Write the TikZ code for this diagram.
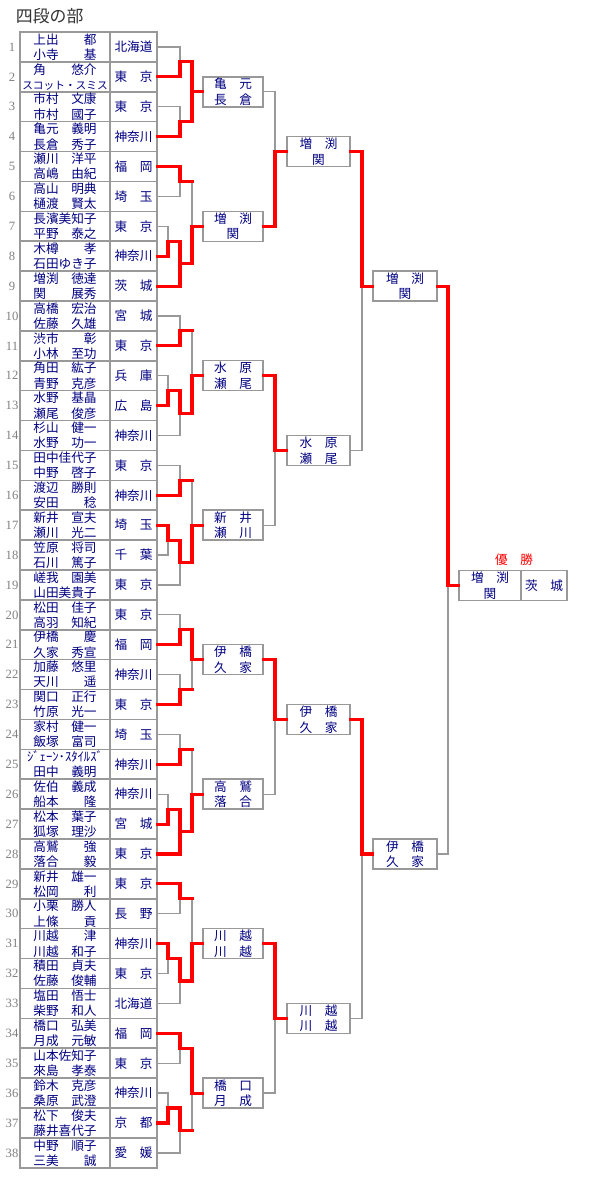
\documentclass[tikz,border=0pt]{standalone}
\usepackage{fontspec}
\setmainfont{Noto Sans CJK JP}
\newfontfamily\numfont{Liberation Serif}
\definecolor{navy}{HTML}{000080}
\definecolor{linegray}{HTML}{999999}
\definecolor{numgray}{HTML}{808080}
\definecolor{titlegray}{HTML}{333333}
\newcommand{\nm}[2]{\makebox[5em]{#1\hfill#2}}
\newcommand{\pf}[2]{\makebox[3em]{#1\hfill#2}}

\begin{document}
\begin{tikzpicture}[x=0.025cm, y=-0.025cm,
    namecell/.style={draw=linegray, line width=1.1pt, minimum width=2.25cm, minimum height=0.747cm,
        inner sep=0pt, align=center, text=navy, font=\fontsize{9pt}{10.8pt}\selectfont},
    prefcell/.style={namecell, minimum width=1.175cm},
    resbox/.style={draw=linegray, line width=1.1pt, minimum height=0.75cm, inner sep=0pt,
        align=center, text=navy, font=\fontsize{9pt}{11pt}\selectfont},
    lose/.style={draw=linegray, line width=0.9pt},
    win/.style={draw=red, line width=2.2pt, line cap=rect}]
    \useasboundingbox (0,0) rectangle (600,1200);

    % Title
    \node[anchor=west, text=titlegray, font=\fontsize{12pt}{14pt}\selectfont] (title) at (11,16) {四段の部};

    % Entry table
    \foreach \i/\na/\nb/\pr in {
        1/{\nm{上出}{都}}/{\nm{小寺}{基}}/北海道,
        2/{\nm{角}{悠介}}/{{\fontsize{7.6pt}{10.8pt}\selectfont スコット・スミス}}/{\pf{東}{京}},
        3/{\nm{市村}{文康}}/{\nm{市村}{國子}}/{\pf{東}{京}},
        4/{\nm{亀元}{義明}}/{\nm{長倉}{秀子}}/神奈川,
        5/{\nm{瀬川}{洋平}}/{\nm{高嶋}{由紀}}/{\pf{福}{岡}},
        6/{\nm{高山}{明典}}/{\nm{樋渡}{賢太}}/{\pf{埼}{玉}},
        7/{\nm{長濱美知子}{}}/{\nm{平野}{泰之}}/{\pf{東}{京}},
        8/{\nm{木樽}{孝}}/{\nm{石田ゆき子}{}}/神奈川,
        9/{\nm{増渕}{徳達}}/{\nm{関}{展秀}}/{\pf{茨}{城}},
        10/{\nm{高橋}{宏治}}/{\nm{佐藤}{久雄}}/{\pf{宮}{城}},
        11/{\nm{渋市}{彰}}/{\nm{小林}{至功}}/{\pf{東}{京}},
        12/{\nm{角田}{紘子}}/{\nm{青野}{克彦}}/{\pf{兵}{庫}},
        13/{\nm{水野}{基晶}}/{\nm{瀬尾}{俊彦}}/{\pf{広}{島}},
        14/{\nm{杉山}{健一}}/{\nm{水野}{功一}}/神奈川,
        15/{\nm{田中佳代子}{}}/{\nm{中野}{啓子}}/{\pf{東}{京}},
        16/{\nm{渡辺}{勝則}}/{\nm{安田}{稔}}/神奈川,
        17/{\nm{新井}{宣夫}}/{\nm{瀬川}{光二}}/{\pf{埼}{玉}},
        18/{\nm{笠原}{将司}}/{\nm{石川}{篤子}}/{\pf{千}{葉}},
        19/{\nm{嵯我}{園美}}/{\nm{山田美貴子}{}}/{\pf{東}{京}},
        20/{\nm{松田}{佳子}}/{\nm{高羽}{知紀}}/{\pf{東}{京}},
        21/{\nm{伊橋}{慶}}/{\nm{久家}{秀宣}}/{\pf{福}{岡}},
        22/{\nm{加藤}{悠里}}/{\nm{天川}{遥}}/神奈川,
        23/{\nm{関口}{正行}}/{\nm{竹原}{光一}}/{\pf{東}{京}},
        24/{\nm{家村}{健一}}/{\nm{飯塚}{富司}}/{\pf{埼}{玉}},
        25/{ｼﾞｪｰﾝ･ｽﾀｲﾙｽﾞ}/{\nm{田中}{義明}}/神奈川,
        26/{\nm{佐伯}{義成}}/{\nm{船本}{隆}}/神奈川,
        27/{\nm{松本}{葉子}}/{\nm{狐塚}{理沙}}/{\pf{宮}{城}},
        28/{\nm{高鷲}{強}}/{\nm{落合}{毅}}/{\pf{東}{京}},
        29/{\nm{新井}{雄一}}/{\nm{松岡}{利}}/{\pf{東}{京}},
        30/{\nm{小栗}{勝人}}/{\nm{上條}{貢}}/{\pf{長}{野}},
        31/{\nm{川越}{津}}/{\nm{川越}{和子}}/神奈川,
        32/{\nm{積田}{貞夫}}/{\nm{佐藤}{俊輔}}/{\pf{東}{京}},
        33/{\nm{塩田}{悟士}}/{\nm{柴野}{和人}}/北海道,
        34/{\nm{橋口}{弘美}}/{\nm{月成}{元敏}}/{\pf{福}{岡}},
        35/{\nm{山本佐知子}{}}/{\nm{來島}{孝泰}}/{\pf{東}{京}},
        36/{\nm{鈴木}{克彦}}/{\nm{桑原}{武澄}}/神奈川,
        37/{\nm{松下}{俊夫}}/{\nm{藤井喜代子}{}}/{\pf{京}{都}},
        38/{\nm{中野}{順子}}/{\nm{三美}{誠}}/{\pf{愛}{媛}}}
    {
        \node[namecell] (n\i) at (65,{32+(\i-0.5)*29.89}) {\na\\\nb};
        \node[prefcell] (t\i) at (133.5,{32+(\i-0.5)*29.89}) {\pr};
        \node[text=numgray, font=\numfont\fontsize{9pt}{10pt}\selectfont] (r\i) at (12,{32+(\i-0.5)*29.89}) {\i};
    }

    % Result boxes
    \node[resbox, minimum width=1.5cm] (b1) at (233,91.8) {\pf{亀}{元}\\\pf{長}{倉}};
    \node[resbox, minimum width=1.5cm] (b2) at (233,226.3) {\pf{増}{渕}\\関};
    \node[resbox, minimum width=1.5cm] (b3) at (233,375.7) {\pf{水}{原}\\\pf{瀬}{尾}};
    \node[resbox, minimum width=1.5cm] (b4) at (233,525.2) {\pf{新}{井}\\\pf{瀬}{川}};
    \node[resbox, minimum width=1.5cm] (b5) at (233,659.7) {\pf{伊}{橋}\\\pf{久}{家}};
    \node[resbox, minimum width=1.5cm] (b6) at (233,794.2) {\pf{高}{鷲}\\\pf{落}{合}};
    \node[resbox, minimum width=1.5cm] (b7) at (233,943.6) {\pf{川}{越}\\\pf{川}{越}};
    \node[resbox, minimum width=1.5cm] (b8) at (233,1093.1) {\pf{橋}{口}\\\pf{月}{成}};

    \node[resbox, minimum width=1.575cm] (c1) at (318.5,151.6) {\pf{増}{渕}\\関};
    \node[resbox, minimum width=1.575cm] (c2) at (318.5,450.5) {\pf{水}{原}\\\pf{瀬}{尾}};
    \node[resbox, minimum width=1.575cm] (c3) at (318.5,719.5) {\pf{伊}{橋}\\\pf{久}{家}};
    \node[resbox, minimum width=1.575cm] (c4) at (318.5,1018.4) {\pf{川}{越}\\\pf{川}{越}};

    \node[resbox, minimum width=1.6cm] (d1) at (405,286.1) {\pf{増}{渕}\\関};
    \node[resbox, minimum width=1.6cm] (d2) at (405,854) {\pf{伊}{橋}\\\pf{久}{家}};

    % Champion
    \node[resbox, minimum width=1.55cm] (chl) at (490,585.5) {\pf{増}{渕}\\関};
    \node[resbox, minimum width=1.15cm] (chr) at (544,585.5) {\pf{茨}{城}};
    \node[text=red, font=\fontsize{9pt}{11pt}\selectfont] (yusho) at (514,560) {\pf{優}{勝}};

    % Junctions, first round
    \coordinate (j1) at (180,61.9);
    \coordinate (j2) at (180,121.7);
    \coordinate (j3) at (180,181.5);
    \coordinate (s4) at (168,241.2);
    \coordinate (j4) at (180,263.7);
    \coordinate (j5) at (180,330.9);
    \coordinate (s6) at (168,390.7);
    \coordinate (j6) at (180,413.1);
    \coordinate (j7) at (180,480.4);
    \coordinate (s8) at (168,540.1);
    \coordinate (j8) at (180,562.6);
    \coordinate (j9) at (180,629.8);
    \coordinate (j10) at (180,689.6);
    \coordinate (j11) at (180,749.4);
    \coordinate (s12) at (168,809.1);
    \coordinate (j12) at (180,831.6);
    \coordinate (j13) at (180,898.8);
    \coordinate (s14) at (168,958.6);
    \coordinate (j14) at (180,981.0);
    \coordinate (j15) at (180,1048.3);
    \coordinate (s16) at (168,1108.0);
    \coordinate (j16) at (180,1130.5);

    % Junctions, later rounds
    \coordinate (k1) at (192,91.8);
    \coordinate (k2) at (192,226.3);
    \coordinate (k3) at (192,375.7);
    \coordinate (k4) at (192,525.2);
    \coordinate (k5) at (192,659.7);
    \coordinate (k6) at (192,794.2);
    \coordinate (k7) at (192,943.6);
    \coordinate (k8) at (192,1093.1);
    \coordinate (m1) at (275,151.6);
    \coordinate (m2) at (275,450.5);
    \coordinate (m3) at (275,719.5);
    \coordinate (m4) at (275,1018.4);
    \coordinate (q1) at (362,286.1);
    \coordinate (q2) at (362,854);
    \coordinate (w) at (448,585.5);

    % Losing lines
    \draw[lose] (t1.east) -| (j1);
    \draw[lose] (t3.east) -| (j2);
    \draw[lose] (t6.east) -| (j3);
    \draw[lose] (t7.east) -| (s4);
    \draw[lose] (t10.east) -| (j5);
    \draw[lose] (t12.east) -| (s6);
    \draw[lose] (t14.east) -| (j6);
    \draw[lose] (t15.east) -| (j7);
    \draw[lose] (t18.east) -| (s8);
    \draw[lose] (t19.east) -| (j8);
    \draw[lose] (t20.east) -| (j9);
    \draw[lose] (t22.east) -| (j10);
    \draw[lose] (t24.east) -| (j11);
    \draw[lose] (t26.east) -| (s12);
    \draw[lose] (t30.east) -| (j13);
    \draw[lose] (t32.east) -| (s14);
    \draw[lose] (t33.east) -| (j14);
    \draw[lose] (t35.east) -| (j15);
    \draw[lose] (t36.east) -| (s16);
    \draw[lose] (t38.east) -| (j16);
    \draw[lose] (j3) -| (k2);
    \draw[lose] (j5) -| (k3);
    \draw[lose] (j7) -| (k4);
    \draw[lose] (j10) -| (k5);
    \draw[lose] (j11) -| (k6);
    \draw[lose] (j13) -| (k7);
    \draw[lose] (j16) -| (k8);
    \draw[lose] (b1.east) -| (m1);
    \draw[lose] (b4.east) -| (m2);
    \draw[lose] (b6.east) -| (m3);
    \draw[lose] (b8.east) -| (m4);
    \draw[lose] (c2.east) -| (q1);
    \draw[lose] (c4.east) -| (q2);
    \draw[lose] (d2.east) -| (w);

    % Winning lines
    \draw[win] (t2.east) -| (j1);
    \draw[win] (t4.east) -| (j2);
    \draw[win] (t5.east) -| (j3);
    \draw[win] (t8.east) -| (s4) -| (j4);
    \draw[win] (t9.east) -| (j4);
    \draw[win] (t11.east) -| (j5);
    \draw[win] (t13.east) -| (s6) -| (j6);
    \draw[win] (t16.east) -| (j7);
    \draw[win] (t17.east) -| (s8) -| (j8);
    \draw[win] (t21.east) -| (j9);
    \draw[win] (t23.east) -| (j10);
    \draw[win] (t25.east) -| (j11);
    \draw[win] (t27.east) -| (s12) -| (j12);
    \draw[win] (t28.east) -| (j12);
    \draw[win] (t29.east) -| (j13);
    \draw[win] (t31.east) -| (s14) -| (j14);
    \draw[win] (t34.east) -| (j15);
    \draw[win] (t37.east) -| (s16) -| (j16);

    \draw[win] (j1) -| (k1) -- (b1.west);
    \draw[win] (j2) -| (k1);
    \draw[win] (j3) -- (j3 -| k2);
    \draw[win] (j4) -| (k2) -- (b2.west);
    \draw[win] (j5) -- (j5 -| k3);
    \draw[win] (j6) -| (k3) -- (b3.west);
    \draw[win] (j7) -- (j7 -| k4);
    \draw[win] (j8) -| (k4) -- (b4.west);
    \draw[win] (j9) -| (k5) -- (b5.west);
    \draw[win] (j10) -- (j10 -| k5);
    \draw[win] (j11) -- (j11 -| k6);
    \draw[win] (j12) -| (k6) -- (b6.west);
    \draw[win] (j13) -- (j13 -| k7);
    \draw[win] (j14) -| (k7) -- (b7.west);
    \draw[win] (j15) -| (k8) -- (b8.west);
    \draw[win] (j16) -- (j16 -| k8);

    \draw[win] (b2.east) -| (m1) -- (c1.west);
    \draw[win] (b3.east) -| (m2) -- (c2.west);
    \draw[win] (b5.east) -| (m3) -- (c3.west);
    \draw[win] (b7.east) -| (m4) -- (c4.west);
    \draw[win] (c1.east) -| (q1) -- (d1.west);
    \draw[win] (c3.east) -| (q2) -- (d2.west);
    \draw[win] (d1.east) -| (w) -- (chl.west);
\end{tikzpicture}
\end{document}
